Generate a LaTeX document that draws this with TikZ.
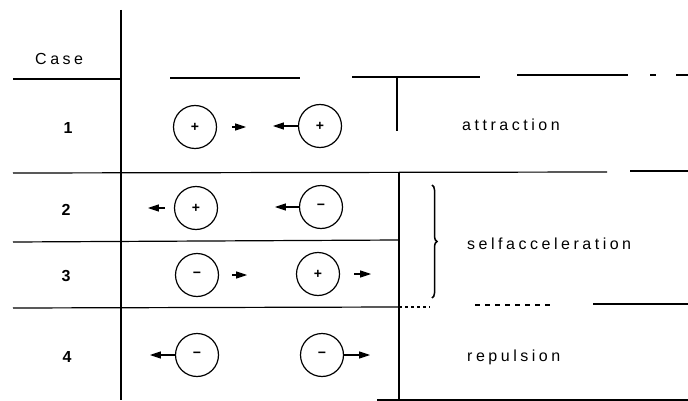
\documentclass[tikz,border=0pt]{standalone}
\usepackage{fontspec}
\setmainfont{Liberation Sans}[LetterSpace=22]
\newfontfamily\signfont{Liberation Sans}
\usetikzlibrary{arrows.meta,decorations.pathreplacing}
\begin{document}
\begin{tikzpicture}[x=1pt,y=-1pt,
  rule/.style={line width=1.2pt},
  mainrule/.style={line width=2pt},
  charge/.style={circle,draw,line width=1.2pt,minimum size=43pt,inner sep=0pt,
    font=\signfont\bfseries\fontsize{14}{14}\selectfont},
  arr/.style={line width=1.3pt,-{Triangle[length=11pt,width=7pt]}},
  lbl/.style={font=\fontsize{16}{18}\selectfont,inner sep=0pt},
  num/.style={font=\signfont\bfseries\fontsize{16}{18}\selectfont,inner sep=0pt}]
\useasboundingbox (0,0) rectangle (688,401);

% table rules
\draw[mainrule] (121,10) -- (121,400);
\draw[rule] (13,79) -- (121,79);
\draw[rule] (170,78) -- (300,78);
\draw[rule] (352,77) -- (480,77);
\draw[rule] (517,75) -- (628,75);
\draw[rule] (650,75) -- (656,75);
\draw[rule] (676,75) -- (688,75);
\draw[rule] (397,77) -- (397,131);
\draw[rule] (13,173) -- (607,172);
\draw[rule] (630,171) -- (688,171);
\draw[rule] (13,242) -- (399,240);
\draw[rule] (13,308) -- (399,307);
\draw[rule,dash pattern=on 3pt off 3pt] (399,307) -- (430,307);
\draw[rule,dash pattern=on 5pt off 5pt] (475,305) -- (552,305);
\draw[rule] (593,304) -- (688,304);
\draw[rule] (377,400) -- (688,400);
\draw[rule] (399,172) -- (399,400);

% brace
\draw[line width=1.5pt,decorate,decoration={brace,amplitude=5pt}] (432,185) -- (432,298);

% labels
\node[lbl,anchor=base west] (case) at (35,65) {Case};
\node[num] (n1) at (68,128) {1};
\node[num] (n2) at (66,210) {2};
\node[num] (n3) at (66,276) {3};
\node[num] (n4) at (67,357) {4};
\node[lbl,anchor=base west] (attr) at (462,131) {attraction};
\node[lbl,anchor=base west] (self) at (467,249) {selfacceleration};
\node[lbl,anchor=base west] (rep) at (467,361) {repulsion};

% charges
\node[charge] (c1l) at (195,127) {+};
\node[charge] (c1r) at (320,126) {+};
\node[charge] (c2l) at (196,208) {+};
\node[charge] (c2r) at (321,207) {−};
\node[charge] (c3l) at (197,275) {−};
\node[charge] (c3r) at (318,274) {+};
\node[charge] (c4l) at (197,355) {−};
\node[charge] (c4r) at (322,355) {−};

% arrows
\draw[arr] ([xshift=15pt]c1l.east) -- ++(14,0);
\draw[arr] (c1r.west) -- ++(-25,0);
\draw[arr] ([xshift=-9pt]c2l.west) -- ++(-17,0);
\draw[arr] (c2r.west) -- ++(-24,0);
\draw[arr] ([xshift=13pt]c3l.east) -- ++(15,0);
\draw[arr] ([xshift=14pt]c3r.east) -- ++(17,0);
\draw[arr] (c4l.west) -- ++(-25,0);
\draw[arr] (c4r.east) -- ++(26,0);
\end{tikzpicture}
\end{document}
